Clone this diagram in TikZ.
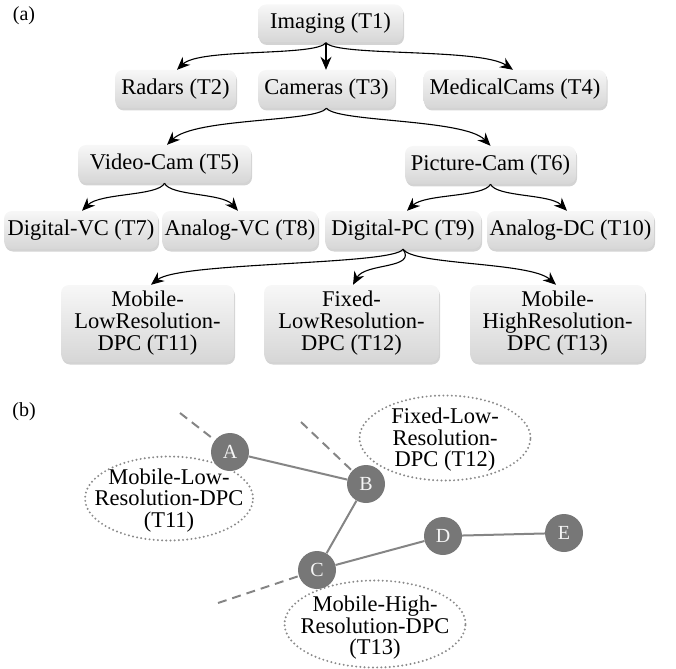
\documentclass[tikz,border=0pt]{standalone}
\usepackage{fontspec}
\setmainfont{Liberation Serif}
\usetikzlibrary{shadows,arrows.meta}
\definecolor{circfill}{HTML}{777777}
\definecolor{linegray}{HTML}{858585}
\definecolor{dotgray}{HTML}{8A8A8A}
\begin{document}
\begin{tikzpicture}[x=1pt,y=-1pt,
  box/.style={rounded corners=8pt, top color=gray!6, bottom color=gray!32,
    drop shadow={shadow xshift=1pt, shadow yshift=-2.5pt, opacity=0.35},
    align=center, inner sep=0pt, minimum height=38pt,
    font=\fontsize{22.5}{22}\selectfont},
  arr/.style={-{Stealth[length=13pt,width=11pt]}, line width=1.1pt, black},
  vert/.style={circle, fill=circfill, minimum size=38pt, inner sep=0pt,
    text=gray!8, font=\fontsize{20}{20}\selectfont},
  link/.style={linegray, line width=2pt},
  dlink/.style={linegray, line width=2pt, dash pattern=on 9pt off 6pt},
  cloudline/.style={draw=dotgray, line width=2.2pt, line cap=round,
    dash pattern=on 0pt off 4.2pt},
  cloud/.style={inner sep=0pt, align=center,
    font=\fontsize{22.5}{21.5}\selectfont},
  lbl/.style={font=\fontsize{20}{20}\selectfont, inner sep=0pt}]
\useasboundingbox (0,0) rectangle (676,668);
% labels
\node[lbl] (la) at (24,16) {(a)};
\node[lbl] (lb) at (24,412) {(b)};
% tree boxes
\node[box, minimum width=145pt] (T1) at (330.5,23.5) {Imaging (T1)};
\node[box, minimum width=121pt] (T2) at (175.5,89) {Radars (T2)};
\node[box, minimum width=137pt] (T3) at (326.5,89) {Cameras (T3)};
\node[box, minimum width=183pt] (T4) at (515,89) {MedicalCams (T4)};
\node[box, minimum width=173pt] (T5) at (164.5,164) {Video-Cam (T5)};
\node[box, minimum width=171pt] (T6) at (490.5,165) {Picture-Cam (T6)};
\node[box, minimum width=154pt] (T7) at (81,230) {Digital-VC (T7)};
\node[box, minimum width=156pt] (T8) at (240,230) {Analog-VC (T8)};
\node[box, minimum width=156pt] (T9) at (403,230) {Digital-PC (T9)};
\node[box, minimum width=167pt] (T10) at (570.5,230) {Analog-DC (T10)};
\node[box, minimum width=173pt, minimum height=77pt] (T11) at (147.5,323.5) {Mobile-\\LowResolution-\\DPC (T11)};
\node[box, minimum width=175pt, minimum height=77pt] (T12) at (351.5,323.5) {Fixed-\\LowResolution-\\DPC (T12)};
\node[box, minimum width=175pt, minimum height=77pt] (T13) at (557.5,323.5) {Mobile-\\HighResolution-\\DPC (T13)};
% tree arrows
\draw[arr] ([xshift=-4.5pt]T1.south) .. controls +(-10,14) and +(23,-22) .. ([xshift=1.5pt]T2.north);
\draw[arr] ([xshift=-4.5pt]T1.south) -- ([xshift=-0.5pt]T3.north);
\draw[arr] ([xshift=-4.5pt]T1.south) .. controls +(10,14) and +(-33,-22) .. ([xshift=-2pt]T4.north);
\draw[arr] (T3.south) .. controls +(-10,14) and +(28,-27) .. ([xshift=2.5pt]T5.north);
\draw[arr] (T3.south) .. controls +(10,14) and +(-26,-27) .. (T6.north);
\draw[arr] (T5.south) .. controls +(-6,13) and +(18,-18) .. ([xshift=1pt]T7.north);
\draw[arr] (T5.south) .. controls +(6,13) and +(-16,-18) .. ([xshift=-2pt]T8.north);
\draw[arr] (T6.south) .. controls +(-6,13) and +(18,-17) .. ([xshift=4pt]T9.north);
\draw[arr] (T6.south) .. controls +(6,13) and +(-17,-17) .. ([xshift=-3.5pt]T10.north);
\draw[arr] (T9.south) .. controls +(-10,16) and +(29,-23) .. ([xshift=3.5pt]T11.north);
\draw[arr] (T9.south) .. controls +(14,20) and +(12,-22) .. ([xshift=1.5pt]T12.north);
\draw[arr] (T9.south) .. controls +(10,16) and +(-26,-23) .. ([xshift=-1.5pt]T13.north);
% part (b)
\node[cloud] (E11) at (169,500.5) {Mobile-Low-\\Resolution-DPC\\(T11)};
\node[cloud] (E12) at (445,440) {Fixed-Low-\\Resolution-\\DPC (T12)};
\node[cloud] (E13) at (375,628) {Mobile-High-\\Resolution-DPC\\(T13)};
\draw[cloudline] (169,498.5) ellipse [x radius=84pt, y radius=42pt];
\draw[cloudline] (445,438) ellipse [x radius=85.5pt, y radius=42.5pt];
\draw[cloudline] (375,624) ellipse [x radius=90.5pt, y radius=43.5pt];
\coordinate (dA) at (180,413);
\coordinate (dB) at (301,422);
\coordinate (dC) at (218,603);
\node[vert] (A) at (230,452) {A};
\node[vert] (B) at (366,484) {B};
\node[vert] (C) at (317,570) {C};
\node[vert] (D) at (443,536) {D};
\node[vert] (E) at (564,533) {E};
\draw[dlink] (dA) -- (A);
\draw[dlink] (dB) -- (B);
\draw[dlink] (dC) -- (C);
\draw[link] (A) -- (B);
\draw[link] (B) -- (C);
\draw[link] (C) -- (D);
\draw[link] (D) -- (E);
\end{tikzpicture}
\end{document}
